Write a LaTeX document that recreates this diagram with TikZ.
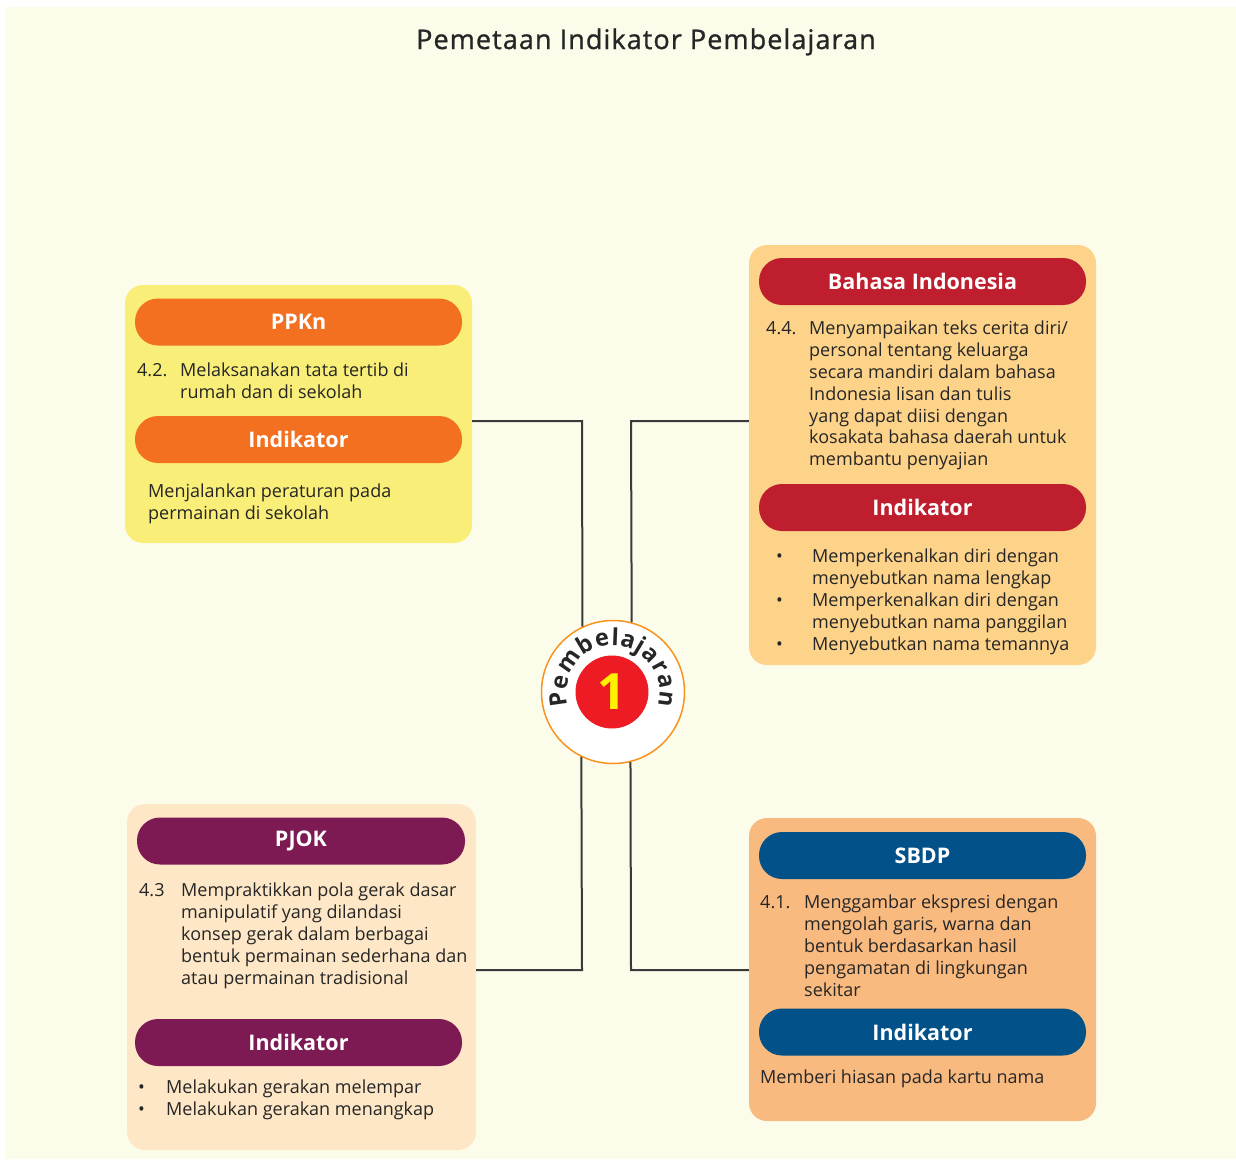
\documentclass[tikz,border=0pt]{standalone}
\usepackage{fontspec}
\setmainfont{Open Sans}
\newfontfamily\titlefont[LetterSpace=4,FakeBold=1.0]{Open Sans}
\usetikzlibrary{decorations.text}
\definecolor{bgc}{HTML}{FCFCEA}
\definecolor{txt}{HTML}{262626}
\definecolor{ppkfill}{HTML}{F9EE78}
\definecolor{ppkbar}{HTML}{F37021}
\definecolor{bifill}{HTML}{FDD38A}
\definecolor{bibar}{HTML}{BE1E2D}
\definecolor{pjfill}{HTML}{FDE7C6}
\definecolor{pjbar}{HTML}{7E1A53}
\definecolor{sbfill}{HTML}{F9BA80}
\definecolor{sbbar}{HTML}{035189}
\definecolor{ringc}{HTML}{F7941E}
\definecolor{redc}{HTML}{ED1C24}
\definecolor{yelc}{HTML}{FFF200}
\definecolor{linec}{HTML}{3A3A3A}
\begin{document}
\begin{tikzpicture}[x=1pt,y=-1pt,
  panel/.style={inner sep=0pt, rounded corners=18pt, draw=none},
  bar/.style={fill=#1, rounded corners=23pt, minimum width=327pt, minimum height=47pt, inner sep=0pt, text=white, font=\fontsize{21.5}{24}\selectfont\bfseries},
  body/.style={anchor=north west, inner sep=0pt, align=left, text=txt, font=\fontsize{18}{21.8}\selectfont},
  conn/.style={draw=linec, line width=2pt}]
\useasboundingbox (0,0) rectangle (1236,1159);
\fill[white] (0,0) rectangle (1236,1159);
\fill[bgc] (5,7) rectangle (1236,1159);

% title
\node[text=txt, font=\fontsize{27}{30}\titlefont] (title) at (646,42) {Pemetaan Indikator Pembelajaran};

% PPKn
\node[panel, fill=ppkfill, minimum width=347pt, minimum height=258pt] (boxA) at (298.5,414) {};
\node[bar=ppkbar] (barA) at (298.5,322) {PPKn};
\node[body] (numA) at (137,363) {4.2.};
\node[body] (txtA) at (180,363) {Melaksanakan tata tertib di\\rumah dan di sekolah};
\node[bar=ppkbar] (indA) at (298.5,439.5) {Indikator};
\node[body] (indtxtA) at (148,484) {Menjalankan peraturan pada\\permainan di sekolah};

% Bahasa Indonesia
\node[panel, fill=bifill, minimum width=347pt, minimum height=420pt] (boxB) at (922.5,455) {};
\node[bar=bibar] (barB) at (922.5,281.5) {Bahasa Indonesia};
\node[body] (numB) at (766,321) {4.4.};
\node[body] (txtB) at (809,321) {Menyampaikan teks cerita diri/\\personal tentang keluarga\\secara mandiri dalam bahasa\\Indonesia lisan dan tulis\\yang dapat diisi dengan\\kosakata bahasa daerah untuk\\membantu penyajian};
\node[bar=bibar] (indB) at (922.5,507.5) {Indikator};
\node[body] (bB1) at (776,549) {\vphantom{Mkl}•};
\node[body] (bB2) at (776,592.6) {\vphantom{Mkl}•};
\node[body] (bB3) at (776,636.2) {\vphantom{Mkl}•};
\node[body] (indtxtB) at (812,549) {Memperkenalkan diri dengan\\menyebutkan nama lengkap\\Memperkenalkan diri dengan\\menyebutkan nama panggilan\\Menyebutkan nama temannya};

% PJOK
\node[panel, fill=pjfill, minimum width=349pt, minimum height=346pt] (boxC) at (301.5,977) {};
\node[bar=pjbar, minimum width=328pt] (barC) at (301,841) {PJOK};
\node[body] (numC) at (139,883) {4.3};
\node[body] (txtC) at (181,883) {Mempraktikkan pola gerak dasar\\manipulatif yang dilandasi\\konsep gerak dalam berbagai\\bentuk permainan sederhana dan\\atau permainan tradisional};
\node[bar=pjbar] (indC) at (298.5,1042.5) {Indikator};
\node[body] (bC1) at (138,1080) {\vphantom{Mkl}•};
\node[body] (bC2) at (138,1101.8) {\vphantom{Mkl}•};
\node[body] (indtxtC) at (166,1080) {Melakukan gerakan melempar\\Melakukan gerakan menangkap};

% SBDP
\node[panel, fill=sbfill, minimum width=347pt, minimum height=303pt] (boxD) at (922.5,969.5) {};
\node[bar=sbbar] (barD) at (922.5,855.5) {SBDP};
\node[body] (numD) at (760,895) {4.1.};
\node[body] (txtD) at (804,895) {Menggambar ekspresi dengan\\mengolah garis, warna dan\\bentuk berdasarkan hasil\\pengamatan di lingkungan\\sekitar};
\node[bar=sbbar] (indD) at (922.5,1032) {Indikator};
\node[body] (indtxtD) at (760,1070) {Memberi hiasan pada kartu nama};

% center badge
\node[circle, draw=ringc, line width=1.5pt, fill=white, minimum size=143pt, inner sep=0pt] (circ) at (613,692) {};
\node[circle, fill=redc, minimum size=73pt, inner sep=0pt, text=yelc, font=\fontsize{50}{50}\selectfont\bfseries] (inner) at (612,692) {1};
\path[decorate, decoration={text along path, text align={fit to path}, text={|\fontsize{23.5}{23.5}\selectfont\bfseries\color{txt}|Pembelajaran}}]
  (613,692) ++(-197:46.5) arc[start angle=-197, end angle=17, radius=46.5];

% connectors
\coordinate (jA) at (582,421);
\coordinate (jB) at (631,421);
\coordinate (jC) at (582,970);
\coordinate (jD) at (631,970);
\draw[conn] (boxA.east |- jA) -- (jA) -- (circ.115.7);
\draw[conn] (boxB.west |- jB) -- (jB) -- (circ.75.4);
\draw[conn] (boxC.east |- jC) -- (jC) -- (circ.244.3);
\draw[conn] (boxD.west |- jD) -- (jD) -- (circ.284.6);
\end{tikzpicture}
\end{document}
